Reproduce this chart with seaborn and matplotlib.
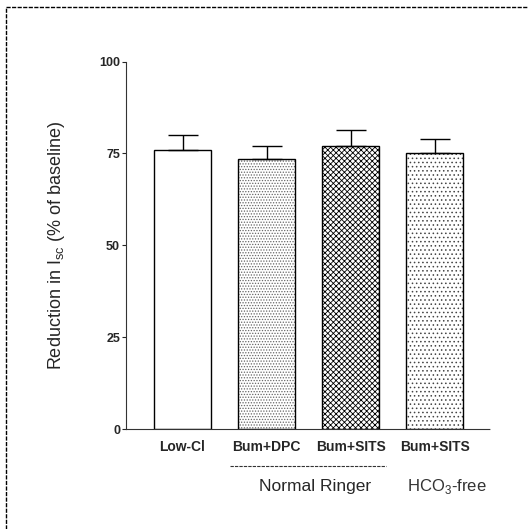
import matplotlib
matplotlib.use("Agg")
import matplotlib.pyplot as plt
import seaborn as sns
import numpy as np
import pandas as pd
from matplotlib.lines import Line2D

# ---- data ----
conditions = ["Low-Cl", "Bum+DPC", "Bum+SITS (NR)", "Bum+SITS (HCO3-free)"]
tick_labels = ["Low-Cl", "Bum+DPC", "Bum+SITS", "Bum+SITS"]
means = [76, 73.6, 77, 75.1]
sem = [4, 3.4, 4.3, 3.9]
yticks = [0, 25, 50, 75, 100]
hatches = ["", "......", "xxxxxx", "...."]
hatch_colors = ["black", "#666666", "black", "#444444"]

sns.set_theme(style="white")
plt.rcParams['font.family'] = ['Liberation Sans', 'DejaVu Sans']
plt.rcParams['hatch.linewidth'] = 0.6

fig = plt.figure(figsize=(5.28, 5.29), dpi=100)
ax = fig.add_axes([0.238, 0.189, 0.690, 0.6946])

df = pd.DataFrame({"cond": conditions, "val": means})
sns.barplot(data=df, x="cond", y="val", order=conditions, color="white",
            edgecolor="black", linewidth=1.0, width=0.68, ax=ax, errorbar=None)

for p, h, hc in zip(ax.patches, hatches, hatch_colors):
    p.set_hatch(h)
    p.set_facecolor("white")
    p._hatch_color = matplotlib.colors.to_rgba(hc)

ax.errorbar(np.arange(len(conditions)), means, yerr=[np.zeros(len(sem)), sem],
            fmt="none", ecolor="black", elinewidth=1.0, capsize=10.5, capthick=1.0)

ax.set_xlim(-0.677, 3.66)
ax.set_ylim(0, 100)
ax.set_yticks(yticks)
ax.set_yticklabels([str(t) for t in yticks], fontsize=9, fontweight="bold")
ax.set_xticks(range(len(conditions)))
ax.set_xticklabels(tick_labels, fontsize=10, fontweight="bold")
ax.tick_params(axis="x", length=0, pad=8)
ax.tick_params(axis="y", length=3, width=0.8, direction="out", left=True, pad=1)
ax.set_xlabel("")
ax.set_ylabel(r"Reduction in I$_{\mathregular{sc}}$ (% of baseline)", fontsize=13, labelpad=23)

for s in ["top", "right"]:
    ax.spines[s].set_visible(False)
for s in ["left", "bottom"]:
    ax.spines[s].set_color("#333333")
    ax.spines[s].set_linewidth(0.8)
    ax.spines[s].set_linestyle((0, (3, 1)))

# group annotation
fig.add_artist(Line2D([230/528, 386/528], [1-466/529, 1-466/529], color="#333333",
                      linewidth=0.8, linestyle=(0, (3, 1))))
fig.text(315/528, 1-487/529, "Normal Ringer", ha="center", va="center", fontsize=12.5)
fig.text(447/528, 1-487/529, r"HCO$_{\mathregular{3}}$-free", ha="center", va="center",
         fontsize=12, color="#333333")

# figure frame
fig.add_artist(Line2D([6/528, 6/528], [0, 1-7/529], color="black", linewidth=1.0,
                      linestyle=(0, (3, 1))))
fig.add_artist(Line2D([6/528, 1.0], [1-7/529, 1-7/529], color="black", linewidth=1.0,
                      linestyle=(0, (3, 1))))

fig.savefig("out.png", dpi=100)
